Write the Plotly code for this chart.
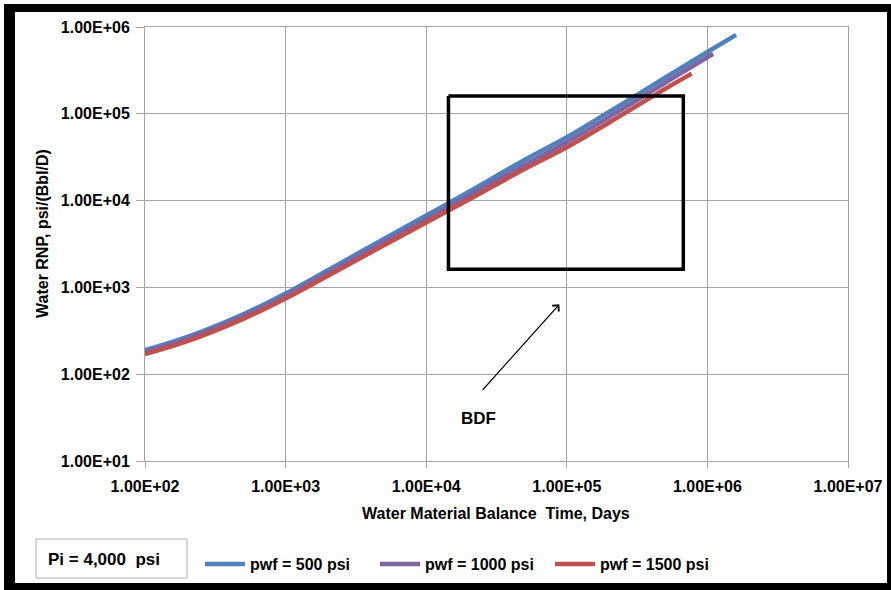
import plotly.graph_objects as go

# Material balance time, days
time_blue = [100, 200, 500, 1000, 2000, 5000, 1e4, 2e4, 5e4, 1e5, 2e5, 5e5, 1e6, 1.6e6]
time_purple = [100, 200, 500, 1000, 2000, 5000, 1e4, 2e4, 5e4, 1e5, 2e5, 5e5, 1e6, 1.1e6]
time_red = [100, 200, 500, 1000, 2000, 5000, 1e4, 2e4, 5e4, 1e5, 2e5, 5e5, 7.73e5]

# Water rate-normalized pressure, psi/(Bbl/D)
rnp_500 = [189, 269, 491, 851, 1578, 3614, 6730, 12570, 29350, 53700, 105000, 260000, 515000, 810000]
rnp_1000 = [180, 256, 463, 798, 1465, 3320, 6120, 11300, 25690, 47120, 91600, 226800, 449000, 488000]
rnp_1500 = [170, 240, 434, 745, 1362, 3061, 5599, 10220, 23100, 41190, 79300, 193700, 290000]

series_names = ["pwf = 500 psi", "pwf = 1000 psi", "pwf = 1500 psi"]
series_colors = ["#4F81BD", "#8064A2", "#C0504D"]

x_tickvals = [1e2, 1e3, 1e4, 1e5, 1e6, 1e7]
x_ticktext = ["1.00E+02", "1.00E+03", "1.00E+04", "1.00E+05", "1.00E+06", "1.00E+07"]
y_tickvals = [1e1, 1e2, 1e3, 1e4, 1e5, 1e6]
y_ticktext = ["1.00E+01", "1.00E+02", "1.00E+03", "1.00E+04", "1.00E+05", "1.00E+06"]

# Boundary-dominated-flow window
bdf_x = [1.44e4, 6.74e5]
bdf_y = [1620, 1.6e5]

FONT = "Liberation Sans, Arial, sans-serif"
GRID = "#a3a3a3"

fig = go.Figure()

for t, v, name, color in zip([time_blue, time_purple, time_red],
                             [rnp_500, rnp_1000, rnp_1500],
                             series_names, series_colors):
    fig.add_trace(go.Scatter(
        x=t, y=v, name=name, mode="lines",
        line=dict(color=color, width=4.5, shape="spline", smoothing=1.0),
    ))

# BDF rectangle
fig.add_trace(go.Scatter(
    x=[bdf_x[0], bdf_x[1], bdf_x[1], bdf_x[0], bdf_x[0]],
    y=[bdf_y[1], bdf_y[1], bdf_y[0], bdf_y[0], bdf_y[1]],
    mode="lines", line=dict(color="black", width=3.5),
    showlegend=False, hoverinfo="skip",
))

W, H = 891, 590
L, R, T, B = 145, 43, 27, 129
pw, ph = W - L - R, H - T - B


def px(x):
    return (x - L) / pw


def py(y):
    return (H - B - y) / ph


shapes = []
# outer black frame
for x0, y0, x1, y1 in [(4, 4, 15, 590), (4, 4, 891, 12), (887, 4, 891, 590), (4, 583, 891, 590)]:
    shapes.append(dict(type="rect", xref="paper", yref="paper",
                       x0=px(x0), x1=px(x1), y0=py(y1), y1=py(y0),
                       fillcolor="black", line=dict(width=0), layer="above"))
# Pi text box
shapes.append(dict(type="rect", xref="paper", yref="paper",
                   x0=px(36), x1=px(187), y0=py(578), y1=py(539),
                   fillcolor="white", line=dict(color="#b0b0b0", width=1)))

annotations = [
    dict(text="Water Material Balance  Time, Days", xref="paper", yref="paper",
         x=px(496), y=py(513), showarrow=False, xanchor="center", yanchor="middle",
         font=dict(family=FONT, size=16, color="black")),
    dict(text="Water RNP, psi/(Bbl/D)", xref="paper", yref="paper",
         x=px(42), y=py(234), showarrow=False, textangle=-90,
         xanchor="center", yanchor="middle",
         font=dict(family=FONT, size=16, color="black")),
    dict(text="Pi = 4,000  psi", xref="paper", yref="paper",
         x=px(104), y=py(559), showarrow=False, xanchor="center", yanchor="middle",
         font=dict(family=FONT, size=17, color="black")),
    dict(text="<b>BDF</b>", xref="paper", yref="paper",
         x=px(478), y=py(418), showarrow=False, xanchor="center", yanchor="middle",
         font=dict(family=FONT, size=17, color="black")),
    dict(text="", x=4.947, y=2.805, xref="x", yref="y",
         showarrow=True, axref="pixel", ayref="pixel", ax=-78, ay=87,
         arrowhead=4, arrowsize=1.3, arrowwidth=1.3, arrowcolor="black"),
]

axis_common = dict(
    type="log", showgrid=True, gridcolor=GRID, gridwidth=1,
    showline=True, linecolor=GRID, linewidth=1, mirror=True,
    ticks="outside", tickcolor=GRID, zeroline=False, automargin=False,
    tickfont=dict(family=FONT, size=16, color="black"),
)

fig.update_xaxes(range=[2, 7], tickvals=x_tickvals, ticktext=x_ticktext,
                 ticklen=6, ticklabelstandoff=5, **axis_common)
fig.update_yaxes(range=[1, 6], tickvals=y_tickvals, ticktext=y_ticktext,
                 ticklen=8, ticklabelstandoff=3, **axis_common)

fig.update_layout(
    width=W, height=H,
    margin=dict(l=L, r=R, t=T, b=B, pad=0, autoexpand=False),
    paper_bgcolor="white", plot_bgcolor="white",
    font=dict(family=FONT, size=16, color="black", weight="bold"),
    showlegend=True,
    legend=dict(orientation="h", x=px(200), y=py(564), xanchor="left", yanchor="middle",
                font=dict(family=FONT, size=16, color="black"),
                bgcolor="rgba(0,0,0,0)", itemwidth=40, tracegroupgap=0,
                entrywidth=120, entrywidthmode="pixels"),
    shapes=shapes, annotations=annotations,
)

fig.write_html("out.html")
